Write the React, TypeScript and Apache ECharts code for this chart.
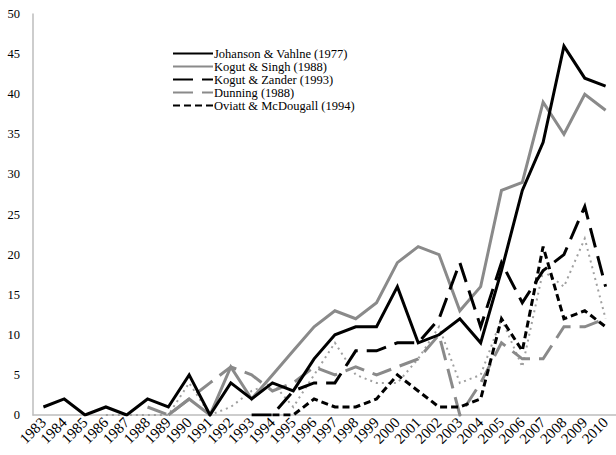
import React, { useEffect, useRef } from "react";
import * as echarts from "echarts";

const years = [
  "1983","1984","1985","1986","1987","1988","1989","1990","1991","1992","1993","1994","1995","1996",
  "1997","1998","1999","2000","2001","2002","2003","2004","2005","2006","2007","2008","2009","2010",
];
const yTicks = [0, 5, 10, 15, 20, 25, 30, 35, 40, 45, 50];

const johansonVahlne = [1, 2, 0, 1, 0, 2, 1, 5, 0, 4, 2, 4, 3, 7, 10, 11, 11, 16, 9, 10, 12, 9, 18, 28, 34, 46, 42, 41];
const kogutSingh = [null, null, null, null, null, null, 0, 2, 0, 6, 2, 5, 8, 11, 13, 12, 14, 19, 21, 20, 13, 16, 28, 29, 39, 35, 40, 38];
const kogutZander = [null, null, null, null, null, null, null, null, null, null, 0, 0, 3, 4, 4, 8, 8, 9, 9, 12, 19, 11, 19, 14, 18, 20, 26, 16];
const dunning = [null, null, null, null, null, 1, 0, 2, 4, 6, 5, 3, 4, 6, 5, 6, 5, 6, 7, 10, 0, 4, 9, 7, 7, 11, 11, 12];
const oviattMcDougall = [null, null, null, null, null, null, null, null, null, null, null, 0, 0, 2, 1, 1, 2, 5, 3, 1, 1, 2, 12, 8, 21, 12, 13, 11];
const unlabeledDotted = [null, null, null, 0, 0, 0, 0, 4, 0, 1, 3, 4, 1, 5, 9, 5, 4, 4, 7, 11, 4, 5, 12, 6, 18, 16, 22, 12];

const names = [
  "Johanson & Vahlne (1977)",
  "Kogut & Singh (1988)",
  "Kogut & Zander (1993)",
  "Dunning (1988)",
  "Oviatt & McDougall (1994)",
];

const FONT = "Liberation Serif";

export default function App() {
  const ref = useRef<HTMLDivElement>(null);
  useEffect(() => {
    document.body.style.margin = "0";
    const chart = echarts.init(ref.current!, null, { renderer: "svg" });
    const mk = (name: string, data: (number | null)[], color: string, width: number, type: any, z = 2) => ({
      name,
      type: "line",
      data,
      symbol: "none",
      showSymbol: false,
      connectNulls: false,
      z,
      lineStyle: { color, width, type, cap: "butt", join: "miter" },
      itemStyle: { color },
    });
    chart.setOption({
      animation: false,
      backgroundColor: "#ffffff",
      grid: { left: 33, right: -7.5, top: 14, bottom: 40, containLabel: false },
      legend: {
        data: names,
        orient: "vertical",
        left: 167,
        top: 42,
        itemWidth: 40,
        itemHeight: 14,
        itemGap: 0,
        itemStyle: { color: "rgba(0,0,0,0)", borderColor: "rgba(0,0,0,0)", borderWidth: 0, opacity: 0 },
        textStyle: { fontFamily: FONT, fontSize: 12.5, lineHeight: 12.5, color: "#000", padding: [0, 0, 0, -4] },
      },
      xAxis: {
        type: "category",
        data: years,
        boundaryGap: true,
        axisLine: { show: true, lineStyle: { color: "#bdbdbd", width: 1.5 } },
        axisTick: { show: false },
        axisLabel: { rotate: 45, margin: 5, fontFamily: FONT, fontSize: 15, color: "#000", interval: 0 },
        splitLine: { show: false },
      },
      yAxis: {
        type: "value",
        min: yTicks[0],
        max: yTicks[yTicks.length - 1],
        interval: yTicks[1] - yTicks[0],
        axisLine: { show: true, lineStyle: { color: "#bdbdbd", width: 1.5 } },
        axisTick: { show: false },
        axisLabel: { margin: 13, fontFamily: FONT, fontSize: 12.5, color: "#000" },
        splitLine: { show: false },
      },
      series: [
        mk("Unlabeled", unlabeledDotted, "#a0a0a0", 2, [2, 4], 1),
        mk(names[3], dunning, "#8a8a8a", 3, [20, 9], 2),
        mk(names[1], kogutSingh, "#8a8a8a", 3, "solid", 3),
        mk(names[4], oviattMcDougall, "#000000", 3, [7, 4], 4),
        mk(names[2], kogutZander, "#000000", 3, [20, 9], 5),
        mk(names[0], johansonVahlne, "#000000", 3, "solid", 6),
      ],
    });
    return () => chart.dispose();
  }, []);
  return <div ref={ref} style={{ position: "absolute", left: 0, top: 0, width: 616, height: 455 }} />;
}
